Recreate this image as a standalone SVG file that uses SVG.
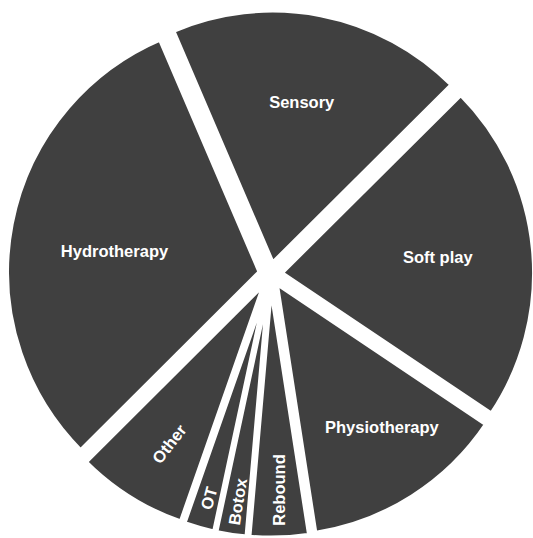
<svg xmlns="http://www.w3.org/2000/svg" width="533" height="538" viewBox="0 0 533 538">
<style>
.slice{fill:#404040;stroke:#ffffff;stroke-width:5;stroke-linejoin:round}
.lbl{fill:#ffffff;font-family:"Liberation Sans",Arial,sans-serif;font-weight:bold;font-size:16.5px;text-anchor:middle}
</style>
<rect x="0" y="0" width="533" height="538" fill="#ffffff"/>
<g id="sensory">
<path class="slice" d="M272.52,263.59 L172.67,30.59 A253.5,253.5 0 0 1 452.25,84.82 Z"/>
<text class="lbl" x="301.7" y="108">Sensory</text>
</g>
<g id="soft-play">
<path class="slice" d="M281.05,272.98 L460.78,94.21 A253.5,253.5 0 0 1 491.56,414.23 Z"/>
<text class="lbl" x="437.8" y="263">Soft play</text>
</g>
<g id="physiotherapy">
<path class="slice" d="M276.19,282.94 L486.70,424.19 A253.5,253.5 0 0 1 314.97,533.46 Z"/>
<text class="lbl" x="381.9" y="433">Physiotherapy</text>
</g>
<g id="rebound">
<path class="slice" d="M270.85,284.59 L309.63,535.11 A253.5,253.5 0 0 1 248.89,537.14 Z"/>
<text class="lbl" transform="translate(279.7,490) rotate(-90)" dy="0.35em">Rebound</text>
</g>
<g id="botox">
<path class="slice" d="M268.93,284.48 L246.97,537.03 A253.5,253.5 0 0 1 215.79,532.35 Z"/>
<text class="lbl" transform="translate(237.7,501.7) rotate(-81)" dy="0.35em">Botox</text>
</g>
<g id="ot">
<path class="slice" d="M267.63,284.20 L214.49,532.07 A253.5,253.5 0 0 1 183.85,523.45 Z"/>
<text class="lbl" transform="translate(209,498.3) rotate(-75)" dy="0.35em">OT</text>
</g>
<g id="other">
<path class="slice" d="M264.85,282.97 L181.07,522.22 A253.5,253.5 0 0 1 85.29,461.91 Z"/>
<text class="lbl" transform="translate(169.3,444) rotate(-52)" dy="0.35em">Other</text>
</g>
<g id="hydrotherapy">
<path class="slice" d="M260.09,271.99 L80.53,450.93 A253.5,253.5 0 0 1 160.24,38.99 Z"/>
<text class="lbl" x="114.5" y="256.7">Hydrotherapy</text>
</g>
<g id="connectors"/>
</svg>
